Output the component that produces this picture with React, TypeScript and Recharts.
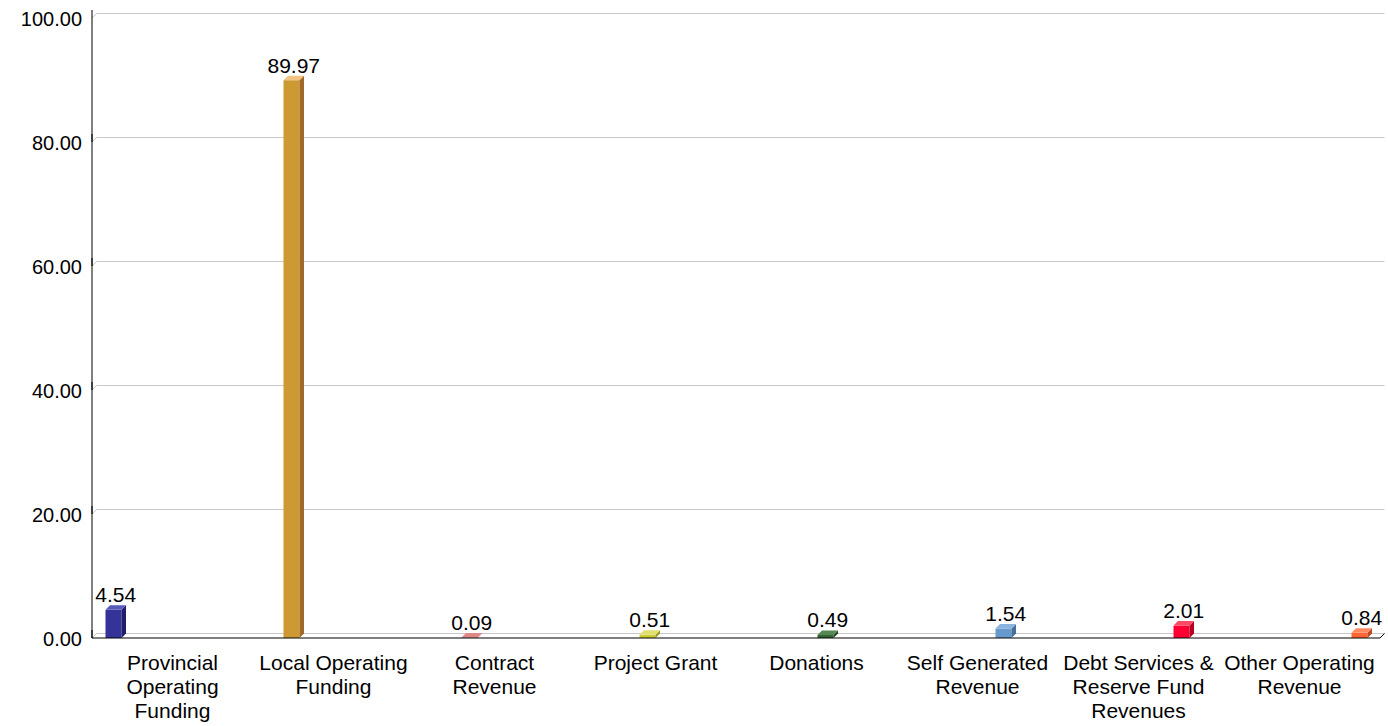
import React from "react";
import { BarChart, Bar, XAxis, YAxis, CartesianGrid } from "recharts";

const categories = [
  "Provincial Operating Funding",
  "Local Operating Funding",
  "Contract Revenue",
  "Project Grant",
  "Donations",
  "Self Generated Revenue",
  "Debt Services & Reserve Fund Revenues",
  "Other Operating Revenue",
];
const tickLines = [
  ["Provincial", "Operating", "Funding"],
  ["Local Operating", "Funding"],
  ["Contract", "Revenue"],
  ["Project Grant"],
  ["Donations"],
  ["Self Generated", "Revenue"],
  ["Debt Services &", "Reserve Fund", "Revenues"],
  ["Other Operating", "Revenue"],
];
const values = [4.54, 89.97, 0.09, 0.51, 0.49, 1.54, 2.01, 0.84];
const yTicks = [0, 20, 40, 60, 80, 100];

const frontColors = ["#33339A", "#CC9933", "#CC6666", "#CCCC33", "#336633", "#6699CC", "#FF0033", "#FF6633"];
const sideColors = ["#1F1F6B", "#A0692A", "#9E4040", "#9A9A22", "#224422", "#46709C", "#B80024", "#C04A22"];
const topColors = ["#5A5AB8", "#F2C483", "#E08888", "#E0E070", "#558855", "#8AB4E0", "#FF4A66", "#FF8A60"];

const keys = categories.map((_, i) => "s" + i);
const data = categories.map((name, i) => {
  const row: Record<string, any> = { name, idx: i };
  keys.forEach((k, j) => {
    row[k] = i === j ? values[i] : null;
  });
  return row;
});

const FONT = "'Liberation Sans', Arial, Helvetica, sans-serif";
const D = 4.5;

const makeShape = (j: number) => (props: any) => {
  const { x, y, width, height, payload } = props;
  const v = payload ? payload[keys[j]] : null;
  if (v == null) return <g />;
  const w = width - 1;
  const bx = x;
  const by = y;
  const h = height;
  return (
    <g>
      <rect x={bx} y={by} width={w} height={h} fill={frontColors[j]} />
      <polygon
        points={`${bx + w},${by} ${bx + w + D},${by - D} ${bx + w + D},${by + h - D} ${bx + w},${by + h}`}
        fill={sideColors[j]}
      />
      <polygon
        points={`${bx},${by} ${bx + D},${by - D} ${bx + w + D},${by - D} ${bx + w},${by}`}
        fill={topColors[j]}
      />
      <text
        x={bx + (w + D) / 2}
        y={by - D - 3}
        textAnchor="middle"
        fontSize={21}
        fontFamily={FONT}
        fill="#000"
      >
        {v.toFixed(2)}
      </text>
    </g>
  );
};

const GridLine = (props: any) => {
  const { x1, y1, x2, y2 } = props;
  const isBottom = Math.abs(y1 - 638) < 2;
  return (
    <g>
      <line x1={x1} y1={y1} x2={x1 + D} y2={y1 - D} stroke="#C8C8C8" strokeWidth={1} />
      <line x1={x1 + D} y1={y1 - D} x2={x2 + D} y2={y2 - D} stroke="#C8C8C8" strokeWidth={1} />
      <line x1={x1} y1={y1} x2={x1} y2={y1 - 8} stroke="#000" strokeWidth={1} />
      {isBottom && <line x1={x2} y1={y2} x2={x2 + D} y2={y2 - D} stroke="#000" strokeWidth={1} />}
    </g>
  );
};

const XTick = (props: any) => {
  const { x, y, index } = props;
  const lines = tickLines[index] || [];
  return (
    <g>
      {lines.map((ln, k) => (
        <text
          key={k}
          x={x}
          y={y + 32 + k * 24}
          textAnchor="middle"
          fontSize={21}
          fontFamily={FONT}
          fill="#000"
        >
          {ln}
        </text>
      ))}
    </g>
  );
};

const YTick = (props: any) => {
  const { x, y, payload } = props;
  return (
    <text x={x} y={y + 1} dy="0.355em" textAnchor="end" fontSize={20} fontFamily={FONT} fill="#000">
      {Number(payload.value).toFixed(2)}
    </text>
  );
};

export default function App() {
  return (
    <div style={{ position: "absolute", left: 0, top: 0, width: 1388, height: 726, background: "#fff" }}>
      <BarChart
        width={1388}
        height={726}
        data={data}
        margin={{ top: 18, right: 8, left: 2, bottom: 8 }}
        barCategoryGap={13.5}
        barGap={0}
      >
        <CartesianGrid vertical={false} horizontal={GridLine} />
        <XAxis
          dataKey="name"
          axisLine={{ stroke: "#000", strokeWidth: 1 }}
          tickLine={false}
          tickSize={0}
          tickMargin={0}
          height={80}
          interval={0}
          tick={XTick}
        />
        <YAxis
          width={90}
          domain={[0, 100]}
          ticks={yTicks}
          interval={0}
          axisLine={{ stroke: "#000", strokeWidth: 1 }}
          tickLine={false}
          tickSize={0}
          tickMargin={10}
          tick={YTick}
        />
        {keys.map((k, j) => (
          <Bar key={k} dataKey={k} fill={frontColors[j]} isAnimationActive={false} shape={makeShape(j)} />
        ))}
      </BarChart>
    </div>
  );
}
